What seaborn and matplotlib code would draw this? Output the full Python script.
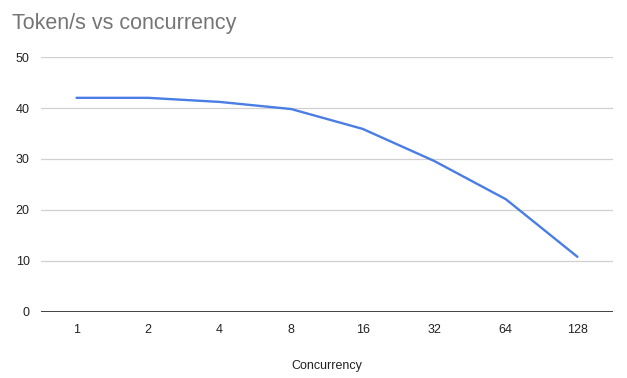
import seaborn as sns
import matplotlib.pyplot as plt
import pandas as pd

sns.set_style("white")
plt.rcParams['font.family'] = ['Liberation Sans', 'DejaVu Sans']

concurrency = ["1", "2", "4", "8", "16", "32", "64", "128"]
tokens_per_s = [42.0, 42.0, 41.2, 39.8, 35.9, 29.6, 22.1, 10.8]

df = pd.DataFrame({"Concurrency": concurrency, "Token/s": tokens_per_s})

fig = plt.figure(figsize=(6.27, 3.78), dpi=100)
ax = fig.add_axes([0.065, 0.175, 0.913, 0.674])

sns.lineplot(x="Concurrency", y="Token/s", data=df, sort=False,
             color="#4a7de6", linewidth=1.7, ax=ax)

ax.set_xlim(-0.5, len(concurrency) - 0.5)
ax.set_ylim(0, 50)
ax.set_yticks([0, 10, 20, 30, 40, 50])
ax.yaxis.grid(True, color="#d0d0d0", linewidth=0.9)
ax.set_axisbelow(True)
ax.axhline(0, color="#333333", linewidth=1.3, zorder=1)
for s in ax.spines.values():
    s.set_visible(False)
ax.tick_params(axis="both", length=0, labelsize=9, colors="#222222")
ax.tick_params(axis="x", pad=9)
ax.tick_params(axis="y", pad=8)

ax.set_ylabel("")
ax.set_xlabel("Concurrency", fontsize=9, color="#222222", labelpad=17)
fig.text(0.019, 0.938, "Token/s vs concurrency", fontsize=15.5, color="#757575",
         ha="left", va="center")

plt.savefig("out.png", dpi=100)
